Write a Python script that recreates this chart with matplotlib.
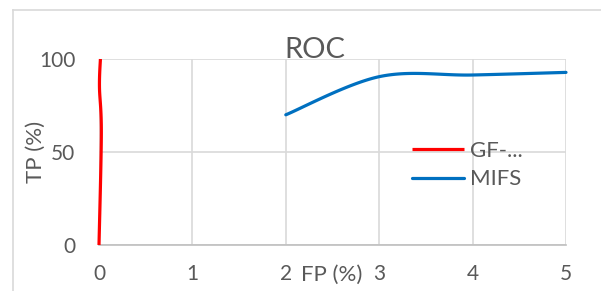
import matplotlib
matplotlib.use("Agg")
import matplotlib.pyplot as plt
from matplotlib.lines import Line2D
import numpy as np

plt.rcParams['font.family'] = ['Lato', 'DejaVu Sans']

TEXT = '#595959'
GRID = '#d9d9d9'

gf_fp = [0.0, 0.025, 0.005, 0.015]
gf_tp = [0.0, 60.0, 85.0, 100.0]
mifs_fp = [2.0, 3.0, 4.0, 5.0]
mifs_tp = [70.0, 90.5, 91.4, 92.8]
xticks = [0, 1, 2, 3, 4, 5]
yticks = [0, 50, 100]


def excel_smooth(xs, ys, n=40):
	# bezier smoothing like the spreadsheet "smoothed line" option
	pts = np.column_stack([xs, ys])
	out = [pts[0]]
	for i in range(len(pts) - 1):
		p0 = pts[i - 1] if i > 0 else pts[i]
		p1 = pts[i]
		p2 = pts[i + 1]
		p3 = pts[i + 2] if i + 2 < len(pts) else pts[i + 1]
		c1 = p1 + (p2 - p0) / 6.0
		c2 = p2 - (p3 - p1) / 6.0
		t = np.linspace(0, 1, n)[1:, None]
		seg = ((1 - t) ** 3) * p1 + 3 * ((1 - t) ** 2) * t * c1 + 3 * (1 - t) * t ** 2 * c2 + t ** 3 * p2
		out.extend(seg)
	out = np.array(out)
	return out[:, 0], out[:, 1]


fig = plt.figure(figsize=(6.01, 2.91), dpi=100)
ax = fig.add_axes([99 / 601, 46 / 291, 467 / 601, 186 / 291])

# chart frame, cut off at right and bottom
fig.add_artist(Line2D([13 / 601, 1], [1 - 10 / 291, 1 - 10 / 291], transform=fig.transFigure, color=GRID, lw=1.2))
fig.add_artist(Line2D([13 / 601, 13 / 601], [1 - 10 / 291, 0], transform=fig.transFigure, color=GRID, lw=1.2))

gx, gy = excel_smooth(gf_fp, gf_tp)
mx, my = excel_smooth(mifs_fp, mifs_tp)
ax.plot(gx, gy, color='#ff0000', lw=2.3, label='GF-...', solid_capstyle='butt', clip_on=False, zorder=3)
ax.plot(mx, my, color='#0070c0', lw=2.3, label='MIFS', solid_capstyle='round', clip_on=False, zorder=3)

ax.set_xlim(0, 5)
ax.set_ylim(0, 100)
ax.set_xticks(xticks)
ax.set_yticks(yticks)
ax.grid(True, color=GRID, lw=1.2)
ax.set_axisbelow(True)
for s in ('top', 'right', 'left'):
	ax.spines[s].set_visible(False)
ax.spines['bottom'].set_color('#bfbfbf')
ax.spines['bottom'].set_linewidth(1.2)
ax.tick_params(length=0, labelsize=15, colors=TEXT)
ax.tick_params(axis='x', pad=14)
ax.tick_params(axis='y', pad=17)

fig.text(315 / 601, 1 - 58 / 291, 'ROC', fontsize=21, color=TEXT, ha='center', va='baseline')
fig.text(332 / 601, 1 - 275 / 291, 'FP (%)', fontsize=16, color=TEXT, ha='center', va='center')
fig.text(36 / 601, 1 - 152 / 291, 'TP (%)', fontsize=16, color=TEXT, ha='center', va='center', rotation=90)

leg = ax.legend(loc='upper left', bbox_to_anchor=(412 / 601, 1 - 141 / 291), bbox_transform=fig.transFigure,
				frameon=False, fontsize=16, handlelength=2.35, handletextpad=0.27, labelspacing=0.38,
				borderpad=0, borderaxespad=0)
for t in leg.get_texts():
	t.set_color(TEXT)

fig.savefig('out.png', dpi=100)
